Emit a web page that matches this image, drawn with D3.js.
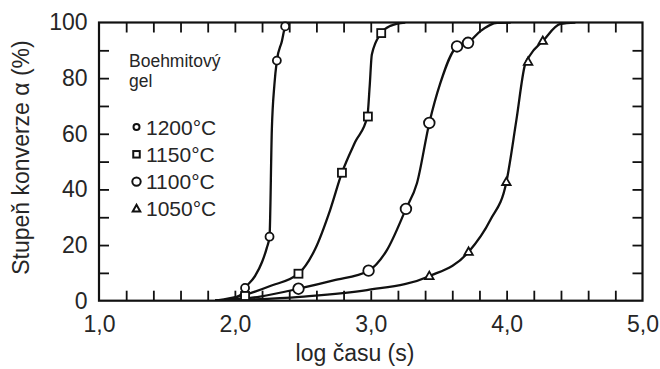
<!DOCTYPE html>
<html>
<head>
<meta charset="utf-8">
<script src="https://cdn.jsdelivr.net/npm/d3@7/dist/d3.min.js"></script>
<style>
  body { margin: 0; background: #fff; }
  svg { display: block; }
  text { font-family: "Liberation Sans", Arial, Helvetica, sans-serif; fill: #262626; }
</style>
</head>
<body>
<svg id="chart" width="660" height="369"></svg>
<script>
// Axis ticks and labels
const xLabelValues = [1, 2, 3, 4, 5];
const xTickLabels = ["1,0", "2,0", "3,0", "4,0", "5,0"];
const xMinorTicks = [1.2, 1.4, 1.6, 1.8, 2, 2.2, 2.4, 2.6, 2.8, 3, 3.2, 3.4, 3.6, 3.8, 4, 4.2, 4.4, 4.6, 4.8];
const yLabelValues = [0, 20, 40, 60, 80, 100];
const yMinorTicks = [10, 20, 30, 40, 50, 60, 70, 80, 90];

const xTitle = "log času (s)";
const yTitle = "Stupeň konverze α (%)";
const legendTitle = ["Boehmitový", "gel"];
const seriesNames = ["1200°C", "1150°C", "1100°C", "1050°C"];

// Measured points [log t, conversion %]
const points1200 = [[2.075, 4.6], [2.255, 23.0], [2.309, 86.3], [2.37, 98.6]];
const points1150 = [[2.075, 1.7], [2.468, 9.7], [2.788, 46.0], [2.979, 66.2], [3.077, 96.2]];
const points1100 = [[2.468, 4.3], [2.984, 10.8], [3.259, 33.0], [3.431, 63.9], [3.635, 91.4], [3.716, 92.7]];
const points1050 = [[3.431, 8.8], [3.72, 17.5], [3.998, 42.6], [4.158, 85.8], [4.266, 93.3]];

// Fitted conversion curves [log t, conversion %]
const curve1200 = [[1.855, 0], [1.965, 0.6], [2.039, 2.0], [2.075, 4.6], [2.149, 8.9], [2.20, 13.9],
  [2.235, 19.0], [2.255, 23.0], [2.272, 61.4], [2.291, 77.7], [2.309, 86.3], [2.346, 93.3],
  [2.37, 98.6], [2.392, 100]];
const curve1150 = [[1.855, 0], [2.061, 1.9], [2.26, 5.3], [2.468, 9.7], [2.591, 18.6], [2.701, 32.6],
  [2.788, 46.0], [2.886, 57.1], [2.975, 66.2], [2.992, 77.0], [3.008, 88.5], [3.077, 96.2],
  [3.144, 98.8], [3.254, 100]];
const curve1100 = [[1.855, 0], [2.186, 1.5], [2.468, 4.3], [2.726, 7.3], [2.984, 10.8], [3.119, 18.2],
  [3.259, 33.0], [3.34, 42.2], [3.431, 63.9], [3.512, 78.2], [3.635, 91.4], [3.716, 92.7],
  [3.807, 96.9], [3.93, 99.9], [4.03, 100]];
const curve1050 = [[1.855, 0], [2.48, 1.4], [2.972, 3.8], [3.431, 8.8], [3.72, 17.5], [3.88, 29.0],
  [3.998, 42.6], [4.072, 65.0], [4.133, 84.4], [4.175, 88.4], [4.266, 93.3], [4.396, 99.5],
  [4.506, 100]];

const svg = d3.select("#chart");
const x = d3.scaleLinear().domain([1, 5]).range([99, 642.5]);
const y = d3.scaleLinear().domain([0, 100]).range([300.7, 22.5]);

// Clip curves to the plotting frame
svg.append("clipPath").attr("id", "plot-clip")
  .append("rect")
  .attr("x", x(1)).attr("y", y(100))
  .attr("width", x(5) - x(1)).attr("height", y(0) - y(100));

// Inward ticks on all four sides
function styleTicks(g) {
  g.select(".domain").remove();
  g.selectAll(".tick line").attr("stroke", "#111").attr("stroke-width", 1.8);
}
svg.append("g").attr("transform", `translate(0,${y(0)})`)
  .call(d3.axisBottom(x).tickValues(xMinorTicks).tickSize(-10).tickFormat(""))
  .call(styleTicks);
svg.append("g").attr("transform", `translate(0,${y(100)})`)
  .call(d3.axisTop(x).tickValues(xMinorTicks).tickSize(-10).tickFormat(""))
  .call(styleTicks);
svg.append("g").attr("transform", `translate(${x(1)},0)`)
  .call(d3.axisLeft(y).tickValues(yMinorTicks).tickSize(-10).tickFormat(""))
  .call(styleTicks);
svg.append("g").attr("transform", `translate(${x(5)},0)`)
  .call(d3.axisRight(y).tickValues(yMinorTicks).tickSize(-10).tickFormat(""))
  .call(styleTicks);

// Tick labels
const labelFont = "'Liberation Sans', Arial, sans-serif";
const xLab = svg.append("g").attr("transform", `translate(0,${y(0)})`)
  .call(d3.axisBottom(x).tickValues(xLabelValues).tickSize(0).tickPadding(14.5)
    .tickFormat((d, i) => xTickLabels[i]));
xLab.select(".domain").remove();
xLab.selectAll("text").style("font-size", "23px").attr("fill", "#262626")
  .style("font-family", labelFont);

const yLab = svg.append("g").attr("transform", `translate(${x(1)},0)`)
  .call(d3.axisLeft(y).tickValues(yLabelValues).tickSize(0).tickPadding(11.5));
yLab.select(".domain").remove();
yLab.selectAll("text").style("font-size", "23px").attr("fill", "#262626")
  .style("font-family", labelFont);

// Frame
svg.append("rect")
  .attr("x", x(1)).attr("y", y(100))
  .attr("width", x(5) - x(1)).attr("height", y(0) - y(100))
  .attr("fill", "none").attr("stroke", "#111").attr("stroke-width", 2.2);

// Curves
const line = d3.line().x(d => x(d[0])).y(d => y(d[1])).curve(d3.curveMonotoneX);
const curves = [curve1200, curve1150, curve1100, curve1050];
svg.append("g").attr("clip-path", "url(#plot-clip)")
  .selectAll("path").data(curves).join("path")
  .attr("d", line)
  .attr("fill", "none").attr("stroke", "#111").attr("stroke-width", 2.3);

// Marker shapes
function drawMarker(g, kind, cx, cy, big) {
  if (kind === "circleSmall") {
    g.append("circle").attr("cx", cx).attr("cy", cy).attr("r", big ? 4 : 3);
  } else if (kind === "square") {
    const s = big ? 8 : 6.5;
    g.append("rect").attr("x", cx - s / 2).attr("y", cy - s / 2).attr("width", s).attr("height", s);
  } else if (kind === "circleLarge") {
    g.append("circle").attr("cx", cx).attr("cy", cy).attr("r", big ? 5.3 : 4.2);
  } else if (kind === "triangle") {
    const s = big ? 8.5 : 7.5;
    const h = s * 0.87;
    g.append("path").attr("d",
      `M${cx},${cy - h * 0.62}L${cx + s / 2},${cy + h * 0.38}L${cx - s / 2},${cy + h * 0.38}Z`);
  }
}

const markerKinds = ["circleSmall", "square", "circleLarge", "triangle"];
const pointSets = [points1200, points1150, points1100, points1050];
const markerLayer = svg.append("g")
  .attr("fill", "#fff").attr("stroke", "#111").attr("stroke-width", 1.8);
pointSets.forEach((pts, i) => {
  pts.forEach(p => drawMarker(markerLayer, markerKinds[i], x(p[0]), y(p[1]), true));
});

// Legend
const legend = svg.append("g");
legend.selectAll("text.title").data(legendTitle).join("text")
  .attr("class", "title")
  .attr("x", 129).attr("y", (d, i) => 67 + i * 20)
  .style("font-size", "17.5px")
  .text(d => d);

const legendMarks = legend.append("g")
  .attr("fill", "#fff").attr("stroke", "#111").attr("stroke-width", 2);
seriesNames.forEach((name, i) => {
  const cy = 127 + i * 27.3;
  drawMarker(legendMarks, markerKinds[i], 136.5, cy, false);
  legend.append("text")
    .attr("x", 146).attr("y", cy + 7.5)
    .style("font-size", "21px")
    .text(name);
});

// Axis titles
svg.append("text")
  .attr("x", 355).attr("y", 361)
  .attr("text-anchor", "middle")
  .style("font-size", "23px")
  .text(xTitle);

svg.append("text")
  .attr("transform", "translate(29,157.5) rotate(-90)")
  .attr("text-anchor", "middle")
  .style("font-size", "23px")
  .text(yTitle);
</script>
</body>
</html>
